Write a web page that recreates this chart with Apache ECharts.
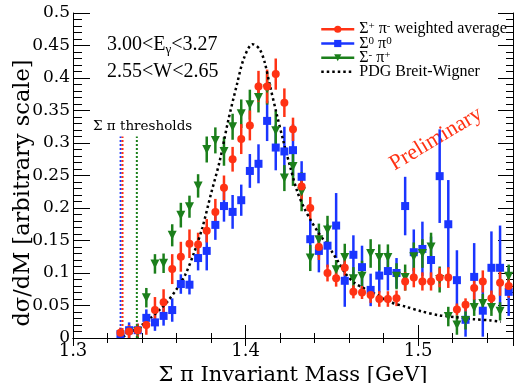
<!DOCTYPE html>
<html lang="en">
<head>
<meta charset="UTF-8">
<title>Sigma pi invariant mass</title>
<style>html,body{margin:0;padding:0;background:#fff;}</style>
</head>
<body>
<div id="main" style="width:514px;height:383px;"></div>
<script src="https://cdn.jsdelivr.net/npm/echarts@6/dist/echarts.min.js"></script>
<script>
// bin centres [GeV]
var mass = [1.3275,1.3325,1.3375,1.3425,1.3475,1.3525,1.3575,1.3625,1.3675,1.3725,
            1.3775,1.3825,1.3875,1.3925,1.3975,1.4025,1.4075,1.4125,1.4175,1.4225,
            1.4275,1.4325,1.4375,1.4425,1.4475,1.4525,1.4575,1.4625,1.4675,1.4725,
            1.4775,1.4825,1.4875,1.4925,1.4975,1.5025,1.5075,1.5125,1.5175,1.5225,
            1.5275,1.5325,1.5375,1.5425,1.5475,1.5525];

// Sigma+ pi- weighted average
var spm = [0.008,0.010,0.012,0.020,0.043,0.055,0.106,0.125,0.145,0.144,
           0.165,0.194,0.231,0.275,0.306,0.327,0.387,0.387,0.406,0.362,
           0.321,0.233,0.200,0.140,0.100,0.092,0.108,0.071,0.070,0.066,
           0.060,0.060,0.061,0.087,0.093,0.087,0.087,0.093,0.093,0.044,
           0.051,0.077,0.087,0.061,0.085,0.080];
var spmErr = [0.008,0.010,0.010,0.015,0.020,0.020,0.023,0.023,0.022,0.018,
              0.018,0.020,0.019,0.019,0.023,0.023,0.024,0.026,0.024,0.022,
              0.018,0.020,0.017,0.020,0.013,0.013,0.012,0.010,0.010,0.012,
              0.012,0.012,0.012,0.014,0.015,0.014,0.014,0.015,0.016,0.009,
              0.010,0.018,0.017,0.012,0.020,0.018];

// Sigma0 pi0
var s00 = [0.006,0.012,0.012,0.031,0.024,0.034,0.043,0.083,0.082,0.123,
           0.134,0.174,0.203,0.194,0.212,0.257,0.268,0.334,0.293,0.287,
           0.289,0.248,0.152,0.134,0.142,0.173,0.088,0.128,0.109,0.074,
           0.096,0.103,0.100,0.203,0.132,0.137,0.120,0.249,0.175,0.089,
           0.028,0.094,0.042,0.108,0.108,0.071];
var s00Err = [0.006,0.012,0.010,0.013,0.013,0.015,0.018,0.015,0.015,0.019,
              0.030,0.023,0.024,0.026,0.024,0.026,0.030,0.031,0.035,0.038,
              0.040,0.024,0.030,0.033,0.033,0.050,0.040,0.030,0.033,0.025,
              0.026,0.030,0.023,0.045,0.035,0.042,0.036,0.072,0.068,0.046,
              0.026,0.052,0.040,0.056,0.065,0.037];

// Sigma- pi+
var smp = [null,null,
           0.010,0.062,0.114,0.115,0.158,0.189,0.202,0.234,
           0.290,0.304,0.287,0.325,0.345,0.359,0.370,0.383,0.319,0.246,
           0.264,0.225,0.123,0.151,0.166,0.105,0.124,0.091,0.095,0.130,
           0.124,0.124,0.095,0.093,0.125,0.130,0.140,0.090,0.033,0.020,
           0.027,0.047,0.053,0.047,0.041,0.095];
var smpErr = [null,null,
              0.010,0.015,0.015,0.015,0.017,0.019,0.017,0.018,
              0.020,0.020,0.022,0.020,0.022,0.023,0.023,0.024,0.030,0.020,
              0.030,0.030,0.020,0.025,0.022,0.015,0.021,0.018,0.024,0.022,
              0.020,0.020,0.020,0.020,0.022,0.022,0.022,0.020,0.015,0.015,
              0.014,0.013,0.015,0.013,0.014,0.018];

// PDG Breit-Wigner curve
var bwMass = [1.329,1.333,1.337,1.341,1.345,1.350,1.355,1.360,1.365,1.370,1.375,1.380,1.385,1.390,
              1.395,1.399,1.404,1.408,1.411,1.414,1.418,1.422,1.426,1.430,1.434,1.438,1.442,1.446,
              1.450,1.454,1.458,1.463,1.469,1.475,1.483,1.493,1.502,1.512,1.522,1.532,1.542,1.548];
var bwValue = [0.002,0.008,0.015,0.022,0.031,0.043,0.057,0.075,0.097,0.130,0.170,0.222,0.272,0.335,
               0.390,0.430,0.452,0.445,0.425,0.390,0.345,0.302,0.262,0.225,0.200,0.180,0.163,0.148,
               0.133,0.116,0.099,0.085,0.076,0.068,0.056,0.048,0.041,0.035,0.032,0.029,0.027,0.025];

// Sigma pi thresholds: Sigma0 pi0, Sigma+ pi-, Sigma- pi+
var thresholdMass = [1.3276, 1.3287, 1.3370];
var thresholdTop = 0.31;

var RED = '#ff3214', BLUE = '#1a35ff', GREEN = '#1b7f1b';
var SERIF = "'Liberation Serif','DejaVu Serif',serif";
var DSERIF = "'DejaVu Serif',serif";

function points(vals) {
    var res = [];
    for (var i = 0; i < mass.length; i++) {
        if (vals[i] != null) res.push([mass[i], vals[i]]);
    }
    return res;
}
function bars(vals, errs) {
    var res = [];
    for (var i = 0; i < mass.length; i++) {
        if (vals[i] != null) res.push([mass[i], vals[i], errs[i]]);
    }
    return res;
}
function errSeries(name, data, color) {
    return {
        name: name, type: 'custom', data: data, clip: true, silent: true,
        renderItem: function (params, api) {
            var x = api.value(0), y = api.value(1), e = api.value(2);
            var p1 = api.coord([x, y - e]);
            var p2 = api.coord([x, y + e]);
            return {type: 'line', shape: {x1: p1[0], y1: p1[1], x2: p2[0], y2: p2[1]},
                    style: {stroke: color, lineWidth: 2.5}};
        }
    };
}
function markSeries(name, data, color, symbol, size, rot) {
    return {
        name: name, type: 'line', data: data, symbol: symbol, symbolSize: size,
        symbolRotate: rot || 0, showAllSymbol: true, clip: true,
        itemStyle: {color: color}, lineStyle: {color: color, width: 2.5, opacity: 0}
    };
}
function threshSeries(m, color) {
    return {
        type: 'line', data: [[m, 0], [m, thresholdTop]], symbol: 'none', silent: true,
        lineStyle: {color: color, width: 2, type: [2, 2]}
    };
}

var legendText = {
    'spm': '{t|Σ}{u|+}{t| π}{u|-}{t| weighted average}',
    's00': '{t|Σ}{u|0}{t| π}{u|0}',
    'smp': '{t|Σ}{u|-}{t| π}{u|+}',
    'bw': '{t|PDG Breit-Wigner}'
};

var chart = echarts.init(document.getElementById('main'));
chart.setOption({
    animation: false,
    grid: {left: 73, right: 1, top: 13, bottom: 45, outerBoundsMode: 'none'},
    xAxis: [{
        type: 'value', min: 1.3, max: 1.555, interval: 0.1,
        name: 'Σ π Invariant Mass [GeV]', nameLocation: 'middle', nameGap: 21,
        nameTextStyle: {fontFamily: DSERIF, fontSize: 21, color: '#000'},
        axisLine: {lineStyle: {color: '#000', width: 1}},
        axisTick: {inside: true, length: 13, lineStyle: {color: '#000'}},
        minorTick: {show: true, splitNumber: 5, length: 5, lineStyle: {color: '#000'}},
        axisLabel: {fontFamily: DSERIF, fontSize: 18, color: '#000', margin: 4, showMaxLabel: false},
        splitLine: {show: false}
    }, {
        type: 'value', position: 'top', min: 1.3, max: 1.555, interval: 0.1,
        axisLine: {lineStyle: {color: '#000', width: 1}},
        axisTick: {inside: true, length: 8, lineStyle: {color: '#000'}},
        minorTick: {show: true, splitNumber: 5, length: 5, lineStyle: {color: '#000'}},
        axisLabel: {show: false}, splitLine: {show: false}
    }],
    yAxis: [{
        type: 'value', min: 0, max: 0.5, interval: 0.05,
        axisLine: {show: true, lineStyle: {color: '#000', width: 1}},
        axisTick: {show: true, inside: true, length: 17, lineStyle: {color: '#000'}},
        minorTick: {show: true, splitNumber: 5, length: 9, lineStyle: {color: '#000'}},
        axisLabel: {fontFamily: DSERIF, fontSize: 17, color: '#000', margin: 3},
        splitLine: {show: false}
    }, {
        type: 'value', position: 'right', min: 0, max: 0.5, interval: 0.05,
        axisLine: {show: true, lineStyle: {color: '#000', width: 1}},
        axisTick: {show: true, inside: true, length: 15, lineStyle: {color: '#000'}},
        minorTick: {show: true, splitNumber: 5, length: 7, lineStyle: {color: '#000'}},
        axisLabel: {show: false}, splitLine: {show: false}
    }],
    legend: {
        orient: 'vertical', left: 315, top: 16, itemWidth: 33, itemHeight: 9, itemGap: -2,
        selectedMode: false,
        formatter: function (name) { return legendText[name]; },
        textStyle: {
            color: '#000',
            rich: {
                t: {fontFamily: SERIF, fontSize: 16, lineHeight: 16.5, color: '#000'},
                u: {fontFamily: SERIF, fontSize: 11, verticalAlign: 'top', color: '#000'}
            }
        },
        data: [
            {name: 'spm', lineStyle: {opacity: 1, width: 2.5, color: RED}},
            {name: 's00', lineStyle: {opacity: 1, width: 2.5, color: BLUE}},
            {name: 'smp', lineStyle: {opacity: 1, width: 2.5, color: GREEN}},
            {name: 'bw', itemStyle: {opacity: 0},
             lineStyle: {opacity: 1, width: 2.5, color: '#000', type: [2.5, 3]}}
        ]
    },
    graphic: [
        {type: 'text', x: 107, y: 34, style: {
            text: '{a|3.00<E}{b|γ}{a|<3.27}', fill: '#000',
            rich: {a: {fontFamily: SERIF, fontSize: 20, lineHeight: 22},
                   b: {fontFamily: SERIF, fontSize: 13, verticalAlign: 'bottom'}}}},
        {type: 'text', x: 107, y: 62, style: {
            text: '2.55<W<2.65', fill: '#000', font: '20px ' + SERIF}},
        {type: 'text', x: 93, y: 119, style: {
            text: 'Σ π thresholds', fill: '#000', font: '13.5px ' + DSERIF}},
        {type: 'text', x: 436, y: 139, rotation: 31 * Math.PI / 180, style: {
            text: 'Preliminary', fill: RED, font: '22px ' + SERIF,
            align: 'center', verticalAlign: 'middle'}},
        {type: 'text', x: 23, y: 193, rotation: Math.PI / 2, style: {
            text: 'dσ/dM [arbitrary scale]', fill: '#000', font: '22.5px ' + DSERIF,
            align: 'center', verticalAlign: 'middle'}}
    ],
    series: [
        threshSeries(thresholdMass[0], BLUE),
        threshSeries(thresholdMass[1], RED),
        threshSeries(thresholdMass[2], GREEN),
        errSeries('s00e', bars(s00, s00Err), BLUE),
        markSeries('s00', points(s00), BLUE, 'rect', 8),
        errSeries('smpe', bars(smp, smpErr), GREEN),
        markSeries('smp', points(smp), GREEN, 'triangle', 9, 180),
        errSeries('spme', bars(spm, spmErr), RED),
        markSeries('spm', points(spm), RED, 'circle', 8),
        {
            name: 'bw', type: 'line', data: bwMass.map(function (m, i) { return [m, bwValue[i]]; }),
            symbol: 'none', smooth: 0.3, silent: true, itemStyle: {color: '#000'},
            lineStyle: {color: '#000', width: 2.5, type: [2.5, 3], cap: 'butt'}
        }
    ]
});
</script>
</body>
</html>
